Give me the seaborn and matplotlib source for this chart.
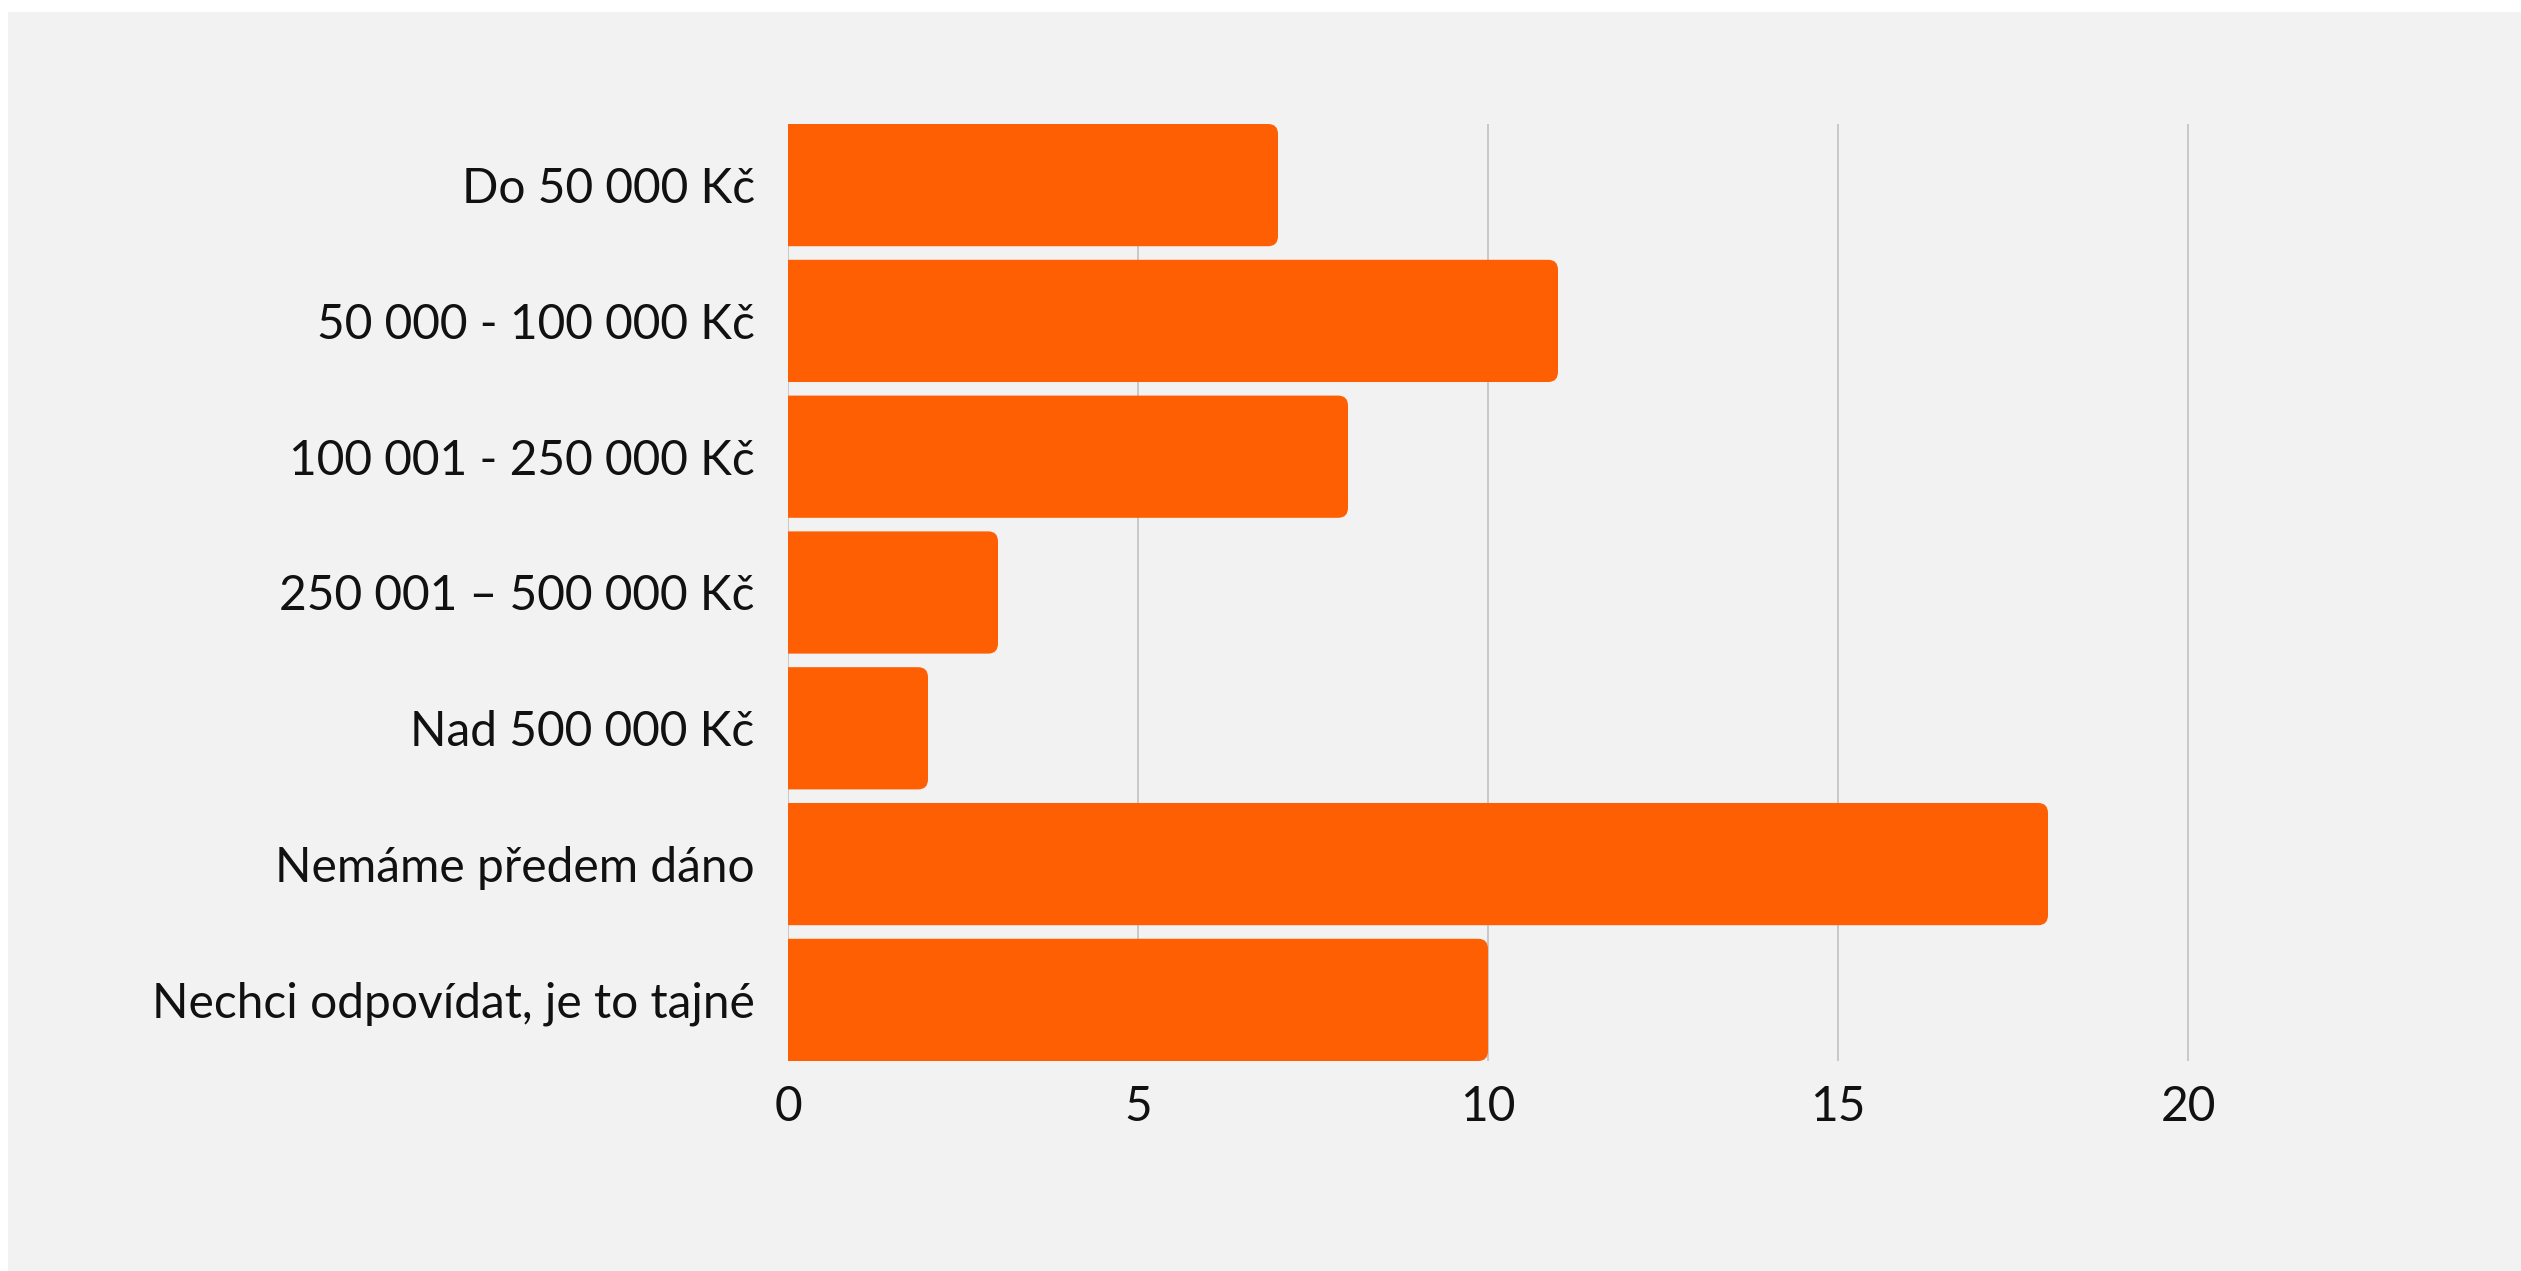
import matplotlib
matplotlib.use("Agg")
import matplotlib.pyplot as plt
import seaborn as sns
import pandas as pd
from matplotlib.patches import FancyBboxPatch, Rectangle

categories = ["Do 50 000 Kč", "50 000 - 100 000 Kč", "100 001 - 250 000 Kč",
              "250 001 – 500 000 Kč", "Nad 500 000 Kč", "Nemáme předem dáno",
              "Nechci odpovídat, je to tajné"]
values = [7, 11, 8, 3, 2, 18, 10]
xticks = [0, 5, 10, 15, 20]

sns.set_theme(style="white")
plt.rcParams['font.family'] = ['Lato', 'DejaVu Sans']

W, H = 2521, 1271
fig = plt.figure(figsize=(W / 100, H / 100), dpi=100, facecolor="white")
fig.patches.append(Rectangle((8 / W, 0), 1, 1 - 12 / H, transform=fig.transFigure,
                             facecolor="#f2f2f2", edgecolor="none", zorder=-10))
ax = fig.add_axes([788 / W, 1 - 1061 / H, (2468 - 788) / W, (1061 - 124) / H])
ax.set_facecolor("none")

df = pd.DataFrame({"cat": categories, "val": values})
bar_color = "#ff5f03"
sns.barplot(data=df, y="cat", x="val", orient="h", color=bar_color, width=0.9,
            saturation=1, ax=ax)

ax.set_xlim(0, 24)
ax.set_ylim(6.45, -0.45)

# replace bars with ones rounded on the right end (left end clipped at the axis)
r = 0.14
aspect = 0.53
for p in list(ax.patches):
    x0, y0 = p.get_x(), p.get_y()
    w, h = p.get_width(), p.get_height()
    p.set_visible(False)
    fb = FancyBboxPatch((x0 - 0.5, y0), w + 0.5, h,
                        boxstyle=f"round,pad=0,rounding_size={r}",
                        mutation_aspect=aspect, facecolor=bar_color,
                        edgecolor="none", zorder=3, clip_on=True)
    ax.add_patch(fb)

ax.set_xticks(xticks)
ax.grid(axis="x", color="#c8c8c8", linewidth=1.4)
ax.grid(axis="y", visible=False)
ax.set_axisbelow(True)
for s in ax.spines.values():
    s.set_visible(False)
ax.set_xlabel("")
ax.set_ylabel("")
ax.tick_params(axis="y", length=0, pad=24, labelsize=34.5, labelcolor="#111111")
ax.tick_params(axis="x", length=0, pad=17, labelsize=34.5, labelcolor="#111111")

fig.savefig("out.png", dpi=100, facecolor=fig.get_facecolor())
